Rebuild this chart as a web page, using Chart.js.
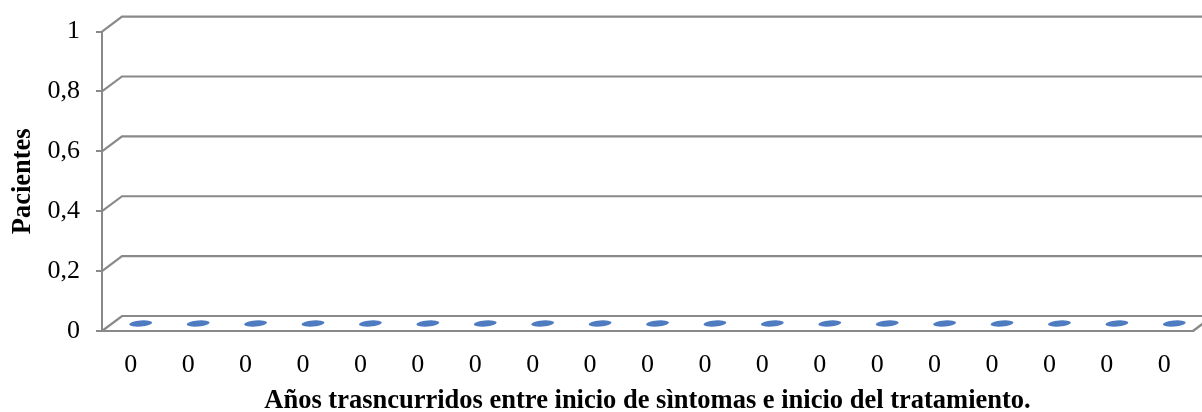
<!DOCTYPE html>
<html>
<head>
<meta charset="utf-8">
<script src="https://cdn.jsdelivr.net/npm/chart.js@4/dist/chart.umd.min.js"></script>
<style>
  html, body { margin: 0; padding: 0; background: #ffffff; }
  #wrap { width: 1202px; height: 412px; }
</style>
</head>
<body>
<div id="wrap"><canvas id="c" width="1202" height="412"></canvas></div>
<script>
// Years between symptom onset and treatment start (category labels)
const categories = ['0','0','0','0','0','0','0','0','0','0','0','0','0','0','0','0','0','0','0'];
// Number of patients per category
const patients = [0,0,0,0,0,0,0,0,0,0,0,0,0,0,0,0,0,0,0];
// Value axis ticks and their printed labels
const yTickValues = [0, 0.2, 0.4, 0.6, 0.8, 1];
const yTickLabels = ['0', '0,2', '0,4', '0,6', '0,8', '1'];

const yTitle = 'Pacientes';
const xTitle = 'Años trasncurridos entre inicio de sìntomas e inicio del tratamiento.';

const LINE = '#898989';
const BAR = '#4f7cc0';
const DEPTH_X = 20, DEPTH_Y = -15;   // receding offset of the 3D back wall
const FONT = "'Liberation Serif', 'Times New Roman', serif";

// Back wall gridlines and floor edge, drawn with a perspective offset
const wallPlugin = {
  id: 'wall',
  beforeDatasetsDraw(chart) {
    const { ctx, chartArea: a, scales: { y } } = chart;
    ctx.save();
    ctx.strokeStyle = LINE;
    ctx.lineWidth = 2.2;
    y.ticks.forEach(t => {
      const py = y.getPixelForValue(t.value);
      ctx.beginPath();
      ctx.moveTo(a.left, py);
      ctx.lineTo(a.left + DEPTH_X, py + DEPTH_Y);
      ctx.lineTo(a.right + DEPTH_X, py + DEPTH_Y);
      ctx.stroke();
    });
    const py0 = y.getPixelForValue(0);
    ctx.beginPath();
    ctx.moveTo(a.right, py0);
    ctx.lineTo(a.right + DEPTH_X, py0 + DEPTH_Y);
    ctx.stroke();
    ctx.restore();
  }
};

// Cylindrical columns: body plus top ellipse, placed at mid-depth
const cylinderPlugin = {
  id: 'cylinders',
  afterDatasetsDraw(chart) {
    const { ctx, scales: { y } } = chart;
    const meta = chart.getDatasetMeta(0);
    const base = y.getPixelForValue(0);
    const rx = 11.5, ry = 3, rot = -0.08;
    ctx.save();
    ctx.fillStyle = BAR;
    meta.data.forEach(bar => {
      const cx = bar.x + DEPTH_X / 2;
      const top = bar.y + DEPTH_Y / 2;
      const bottom = base + DEPTH_Y / 2;
      if (bottom - top > 0.5) {
        ctx.beginPath();
        ctx.ellipse(cx, bottom, rx, ry, rot, 0, Math.PI * 2);
        ctx.fill();
        ctx.fillRect(cx - rx, top, rx * 2, bottom - top);
      }
      ctx.beginPath();
      ctx.ellipse(cx, top, rx, ry, rot, 0, Math.PI * 2);
      ctx.fill();
    });
    ctx.restore();
  }
};

new Chart(document.getElementById('c'), {
  type: 'bar',
  data: {
    labels: categories,
    datasets: [{
      label: yTitle,
      data: patients,
      backgroundColor: 'rgba(0,0,0,0)',
      borderWidth: 0
    }]
  },
  options: {
    responsive: false,
    animation: false,
    events: [],
    layout: { padding: { top: 30, right: 9, left: 0, bottom: 0 } },
    plugins: { legend: { display: false }, tooltip: { enabled: false } },
    scales: {
      x: {
        grid: { display: false, drawTicks: false },
        border: { display: true, color: LINE, width: 2 },
        ticks: {
          color: '#000',
          font: { family: FONT, size: 26 },
          padding: 19,
          maxRotation: 0,
          autoSkip: false
        },
        title: {
          display: true,
          text: xTitle,
          color: '#000',
          font: { family: FONT, size: 26.5, weight: 'bold', lineHeight: 1 },
          padding: { top: 0, bottom: -2 }
        },
        afterFit(scale) { scale.height = 81; }
      },
      y: {
        min: 0,
        max: 1,
        afterBuildTicks(scale) {
          scale.ticks = yTickValues.map(v => ({ value: v }));
        },
        grid: { drawOnChartArea: false, drawTicks: true, tickLength: 6, color: LINE, lineWidth: 2 },
        border: { display: true, color: LINE, width: 2 },
        ticks: {
          color: '#000',
          font: { family: FONT, size: 26 },
          padding: 16,
          callback(value, index) { return yTickLabels[index]; }
        },
        title: {
          display: true,
          text: yTitle,
          color: '#000',
          font: { family: FONT, size: 26.5, weight: 'bold', lineHeight: 1 },
          padding: { top: 10, bottom: 0 }
        },
        afterFit(scale) { scale.width = 102; }
      }
    }
  },
  plugins: [wallPlugin, cylinderPlugin]
});
</script>
</body>
</html>
